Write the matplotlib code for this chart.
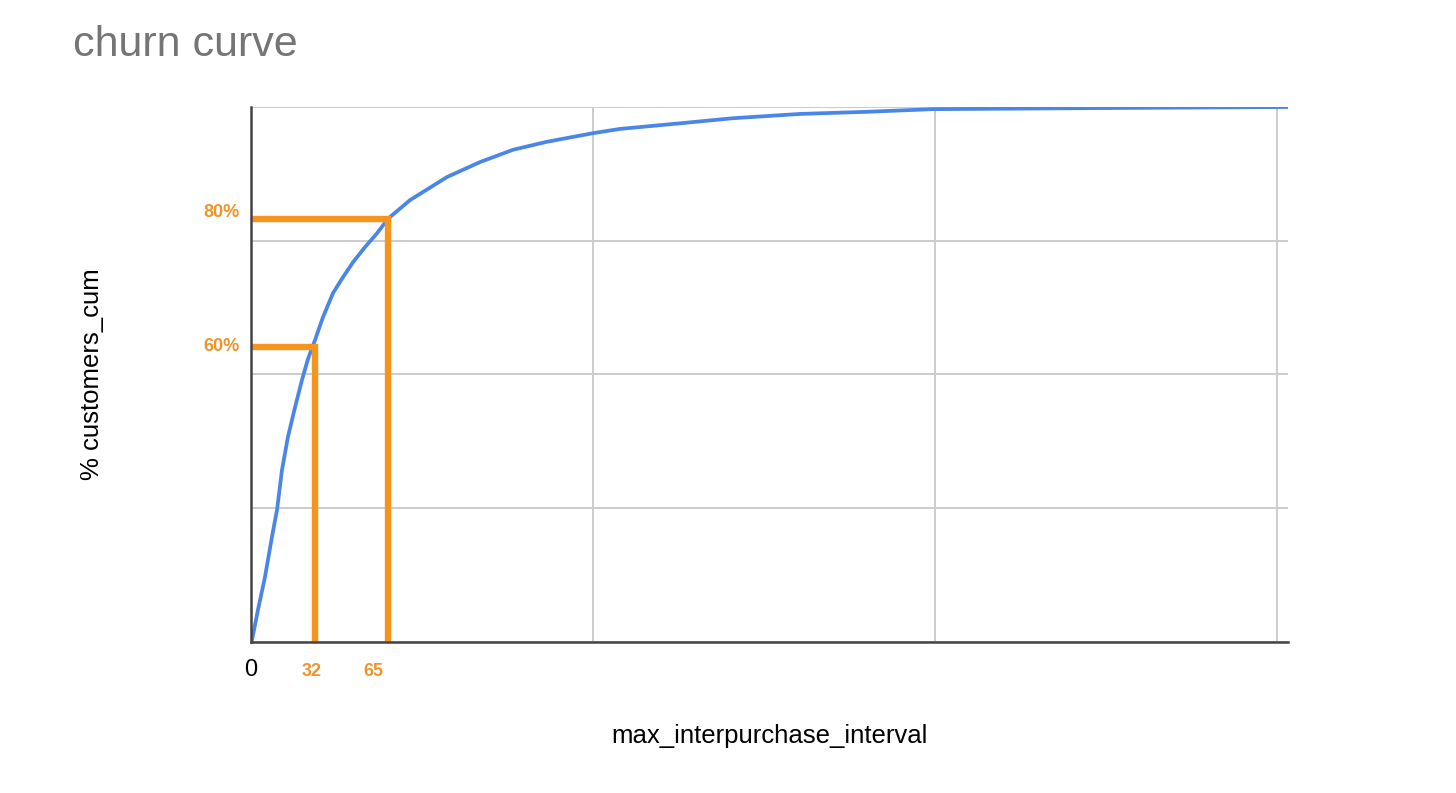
import numpy as np
import matplotlib
matplotlib.use("Agg")
import matplotlib.pyplot as plt

plt.rcParams['font.family'] = ['Liberation Sans', 'DejaVu Sans']

# churn curve
interval = [0, 0.5, 3.4, 6.8, 10.2, 12.7, 15.1, 18.0, 21.5, 24.9, 27.8, 31.2,
            35.1, 40.0, 44.9, 49.8, 55.6, 61.5, 66.8, 77.6, 95.6, 111.7, 127.8,
            144.4, 166.8, 180.0, 210.7, 235.1, 267.8, 300.5, 332.7, 414.6, 506]
customers_cum = [0, 0.004, 0.060, 0.121, 0.196, 0.247, 0.321, 0.383, 0.439,
                 0.490, 0.529, 0.564, 0.607, 0.652, 0.682, 0.710, 0.738, 0.764,
                 0.791, 0.826, 0.869, 0.897, 0.920, 0.935, 0.951, 0.959, 0.970,
                 0.979, 0.987, 0.991, 0.996, 0.998, 1.0]

# hand-drawn markers
mark_x = [31, 67]
mark_y = [0.552, 0.79]
mark_xlabels = ['32', '65']
mark_ylabels = ['60%', '80%']
xlabel_pos = [29.5, 59.5]
ylabel_pos = [0.552, 0.802]

x_grid = [0, 166.8, 333.7, 500.5]
y_grid = [0, 0.25, 0.5, 0.75, 1.0]

orange = '#F7941D'
orange_text = '#EE9428'

fig = plt.figure(figsize=(14.56, 7.93), dpi=100)
ax = fig.add_axes([251 / 1456, 1 - 642 / 793, (1288 - 251) / 1456, (642 - 107) / 793])

ax.plot(interval, customers_cum, color='#4A86E8', lw=2.7, zorder=3,
        solid_joinstyle='round')

for mx, my in zip(mark_x, mark_y):
    ax.plot([0, mx, mx], [my, my, 0], color=orange, lw=4.6, zorder=4,
            solid_joinstyle='miter', solid_capstyle='butt', clip_on=False)

for lbl, xp in zip(mark_xlabels, xlabel_pos):
    ax.text(xp, -0.056, lbl, ha='center', va='center', color=orange_text,
            fontsize=13, fontweight='bold', clip_on=False)
for lbl, yp in zip(mark_ylabels, ylabel_pos):
    ax.text(-14.5, yp, lbl, ha='center', va='center', color=orange_text,
            fontsize=13, fontweight='bold', clip_on=False)

ax.set_xlim(0, 506)
ax.set_ylim(0, 1.0)
ax.set_xticks(x_grid)
ax.set_xticklabels(['0', '', '', ''])
ax.set_yticks(y_grid)
ax.set_yticklabels([])
ax.tick_params(length=0, labelsize=17, pad=12)
ax.grid(True, color='#CCCCCC', lw=1.4)
ax.set_axisbelow(True)

for s in ['top', 'right']:
    ax.spines[s].set_visible(False)
ax.axhline(1.0, color='#CCCCCC', lw=1.4, zorder=1)
for s in ['left', 'bottom']:
    ax.spines[s].set_color('#444444')
    ax.spines[s].set_linewidth(1.8)
    ax.spines[s].set_zorder(5)

ax.set_xlabel('max_interpurchase_interval', fontsize=18.5, labelpad=31)
ax.set_ylabel('% customers_cum', fontsize=18.5, labelpad=94)

fig.text(73 / 1456, 1 - 45 / 793, 'churn curve', fontsize=31, color='#757575',
         ha='left', va='center')

fig.savefig('out.png', dpi=100, facecolor='white')
